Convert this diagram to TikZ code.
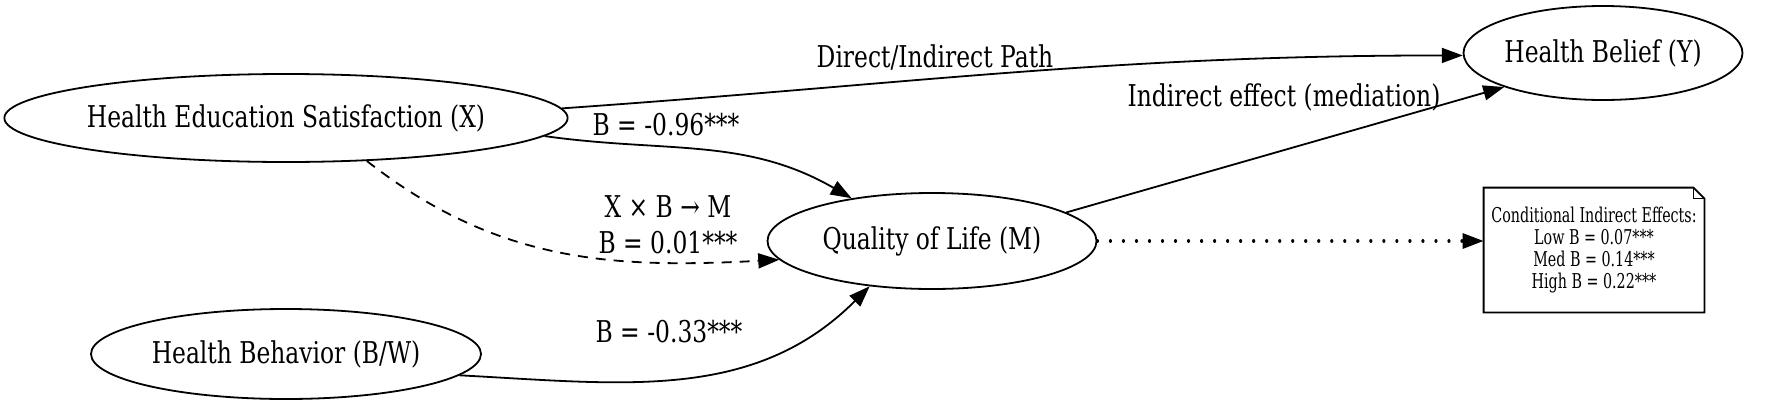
\documentclass[tikz,border=0pt]{standalone}
\usepackage{fontspec}
\setmainfont{DejaVu Serif}[FakeStretch=0.78]
\newfontfamily\notefont{DejaVu Serif}[FakeStretch=0.7]
\usetikzlibrary{arrows.meta,shapes.geometric,calc}
\begin{document}
\begin{tikzpicture}[x=0.5pt,y=-0.5pt,
  mainfont/.style={font=\fontsize{15}{18}\selectfont},
  lbl/.style={mainfont, inner sep=0pt},
  ell/.style={ellipse, draw, line width=0.9pt, inner sep=0pt, mainfont},
  edge/.style={line width=0.9pt, -{Triangle[length=10.5pt,width=7.5pt]}},
  dashededge/.style={edge, dash pattern=on 5pt off 4pt},
  dottededge/.style={edge, dash pattern=on 0.01pt off 6.5pt, line cap=round, line width=1.6pt},
  notebox/.style={inner sep=0pt, minimum width=110pt, minimum height=62pt, align=center, font=\notefont\fontsize{10.2}{10.9}\selectfont}
]
\useasboundingbox (0,0) rectangle (1772,413);

\node[ell, minimum width=281pt, minimum height=44pt] (X) at (286,118) {Health Education Satisfaction (X)};
\node[ell, minimum width=133pt, minimum height=47pt] (Y) at (1603,53) {Health Belief (Y)};
\node[ell, minimum width=164.5pt, minimum height=48pt] (M) at (932,241) {Quality of Life (M)};
\node[ell, minimum width=195pt, minimum height=45pt] (B) at (286,354) {Health Behavior (B/W)};

\node[notebox] (N) at (1594,250) {Conditional Indirect Effects:\\Low B = 0.07***\\Med B = 0.14***\\High B = 0.22***};
\draw[line width=0.9pt] (N.north west) -- ($(N.north east)+(-11,0)$) -- ($(N.north east)+(0,11)$) -- (N.south east) -- (N.south west) -- cycle;
\draw[line width=0.6pt] ($(N.north east)+(-11,0)$) -- ($(N.north east)+(-11,11)$) -- ($(N.north east)+(0,11)$);

\draw[edge] (X.2.6) to[out=4, in=180] (Y.181);
\draw[edge] (X.-4.5) to[out=-8, in=150] (M.152);
\draw[dashededge] (X.-28) to[out=-38, in=183] (M.187);
\draw[edge] (B.-7) to[out=-3, in=-135] (M.-144);
\draw[edge] (M.12) -- (Y.199);
\draw[dottededge] (M.east) -- (M.east -| N.west);

\node[lbl] (l1) at (935,57) {Direct/Indirect Path};
\node[lbl] (l2) at (1284,97) {Indirect effect (mediation)};
\node[lbl] (l3) at (666,125) {B = -0.96***};
\node[lbl] (l4) at (668,207) {X × B → M};
\node[lbl] (l5) at (668,243) {B = 0.01***};
\node[lbl] (l6) at (669,332) {B = -0.33***};
\end{tikzpicture}
\end{document}
